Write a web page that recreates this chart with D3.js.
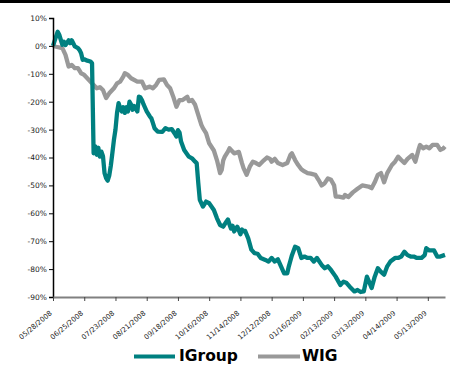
<!DOCTYPE html>
<html>
<head>
<meta charset="utf-8">
<script src="https://cdn.jsdelivr.net/npm/d3@7"></script>
<style>
  html, body { margin: 0; padding: 0; background: #fff; }
  svg { display: block; }
</style>
</head>
<body>
<svg id="chart" width="450" height="365"></svg>
<script>
// ---- data (trading-day index, % change) ----
const xTickLabels = ["05/28/2008","06/25/2008","07/23/2008","08/21/2008","09/18/2008","10/16/2008",
  "11/14/2008","12/12/2008","01/16/2009","02/13/2009","03/13/2009","04/14/2009","05/13/2009"];
const yTicks = [10, 0, -10, -20, -30, -40, -50, -60, -70, -80, -90];
const seriesNames = ["IGroup", "WIG"];

const igroupDays = [0,3,4,6,7,8,10,11,12,14,16,17,18,19,20,22,24,25,26,27,28,29,30,31,32,33,34,35,36,37,38,39,40,41,42,43,44,45,46,47,48,49,50,51,52,54,55,56,57,58,60,62,63,64,65,67,70,72,74,76,78,79,80,81,82,84,87,89,91,92,93,94,96,98,100,103,105,107,109,111,112,113,114,115,116,118,120,121,122,123,125,127,129,131,133,136,138,140,142,144,146,148,150,151,152,153,155,157,159,161,163,165,167,169,172,174,176,178,181,184,186,188,190,193,195,197,199,201,202,204,206,208,210,212,214,216,219,221,223,225,227,229,231,233,236,238,239,241,244,246,248,251];
const igroupValues = [0,5.1,4,0.4,1.5,0.3,2,1,2,-0.2,-0.8,-1.5,-2.6,-5,-4.8,-5.3,-5.6,-6.2,-38.5,-36,-39,-36.5,-39.7,-37.9,-39.5,-45.6,-47.4,-48.3,-46.5,-43,-38.5,-33.7,-30,-24,-20.5,-22.3,-23.5,-22,-24,-22,-23.5,-20,-21,-22.9,-21.5,-23.5,-18.2,-18.5,-19.5,-21,-23.5,-25.3,-26,-27.7,-29.5,-30.7,-30.8,-29.5,-30,-29.8,-31.5,-32.5,-30.2,-31,-34.3,-37.3,-39.7,-40.3,-41.5,-42,-49,-55.2,-57.6,-55.8,-56.4,-58.8,-61.8,-64.2,-64.8,-63,-62.2,-64,-65.5,-64.5,-66.5,-64.8,-67.5,-65.8,-66.5,-66.3,-69,-73,-74.3,-74.5,-76,-76.7,-77.3,-76,-77.3,-76.5,-79,-81.5,-81.5,-79,-77,-75,-72,-72.5,-76,-75.5,-76,-76,-77.3,-76,-78.5,-79.7,-79,-80.3,-82.7,-85.7,-84.5,-85,-86.3,-88,-87.5,-88.2,-88,-82.7,-84,-86.8,-82.7,-79.7,-81,-82,-79,-77.3,-76,-76,-75.5,-73.8,-75,-75.5,-75.5,-76,-76,-75,-72.5,-73.3,-73.3,-75.5,-75.5,-74.9];

const wigDays = [0,2,6,8,10,12,14,16,18,20,23,26,28,30,32,34,36,39,41,43,45,46,48,50,54,57,59,62,64,66,68,71,73,75,77,79,81,83,86,87,89,91,93,95,96,98,100,103,105,107,108,109,110,112,113,114,116,119,121,122,124,126,128,130,132,135,137,139,140,142,144,147,150,152,153,155,157,159,161,163,165,168,170,172,174,176,178,180,181,183,186,187,189,192,195,198,202,204,206,208,210,212,214,217,219,221,223,225,227,230,232,234,235,237,239,241,243,246,248,250,251];
const wigValues = [0,-0.3,-0.8,-3.2,-7.4,-6.8,-8,-8,-9.8,-10.4,-12.2,-14,-15.2,-14.8,-15.8,-18.7,-17,-15.2,-13.4,-12.8,-11,-9.8,-10.4,-11.6,-12.8,-12.8,-15.2,-14.6,-15.2,-14,-12.2,-12,-14,-15.2,-18.2,-21.8,-19.4,-19.4,-18.2,-19.8,-19.4,-21.1,-24.7,-28.3,-29.5,-31.3,-34.9,-37.5,-41,-45.6,-44.5,-41,-39.7,-37.9,-36.7,-37.3,-38.5,-38,-42,-43.8,-46.2,-43.3,-41.5,-42,-42.7,-41,-40,-40.5,-41.5,-40.5,-42,-42.7,-42,-39.1,-38.5,-40.9,-42.7,-44.2,-45,-45.6,-45.8,-46.2,-48,-50,-49.2,-47.5,-48,-50,-54,-54,-54.4,-53.4,-54.2,-52.5,-51.2,-50,-50.4,-51,-48.9,-46.2,-45.6,-48.9,-45.6,-42.7,-41.5,-39.7,-40.9,-42,-40.5,-39.1,-41.5,-37.3,-35.5,-36.7,-36.1,-36.7,-35.5,-35.5,-37.3,-36.7,-36.1];

const colors = ["#008080", "#999999"];

// ---- layout ----
const svg = d3.select("#chart");
const plotLeft = 53, plotRight = 445, plotTop = 18, plotBottom = 297;
const ticksEvery = 20;

const x = d3.scaleLinear().domain([0, 251]).range([plotLeft, plotRight]);
const y = d3.scaleLinear().domain([-90, 10]).range([plotBottom, plotTop]);

// top border
svg.append("line").attr("x1", 0).attr("x2", 450).attr("y1", 1.5).attr("y2", 1.5)
  .attr("stroke", "#000").attr("stroke-width", 3);

// lines
const line = d3.line().x(d => x(d[0])).y(d => y(d[1]));
const wig = wigDays.map((d, i) => [d, wigValues[i]]).filter(d => d[1] !== undefined);
const ig = igroupDays.map((d, i) => [d, igroupValues[i]]).filter(d => d[1] !== undefined);

svg.append("path").datum(wig).attr("d", line).attr("fill", "none")
  .attr("stroke", colors[1]).attr("stroke-width", 4.3).attr("stroke-linejoin", "round");
svg.append("path").datum(ig).attr("d", line).attr("fill", "none")
  .attr("stroke", colors[0]).attr("stroke-width", 4.3).attr("stroke-linejoin", "round");

// y axis
const yAxis = d3.axisLeft(y).tickValues(yTicks).tickSize(4).tickPadding(2)
  .tickFormat(d => d + "%");
const gy = svg.append("g").attr("transform", `translate(${plotLeft},0)`).call(yAxis);
gy.select(".domain").attr("stroke", "#000").attr("stroke-width", 1.5);
gy.selectAll(".tick line").attr("stroke", "#000");
gy.selectAll("text").attr("font-family", "'DejaVu Sans', Verdana, sans-serif")
  .attr("font-size", 7.5).attr("fill", "#222");

// x axis
const xTickVals = xTickLabels.map((_, i) => i * ticksEvery);
const xAxis = d3.axisBottom(x).tickValues(xTickVals).tickSize(4).tickSizeOuter(0)
  .tickFormat((d, i) => xTickLabels[i]);
const gx = svg.append("g").attr("transform", `translate(0,${plotBottom})`).call(xAxis);
gx.select(".domain").attr("stroke", "#808080").attr("stroke-width", 2);
gx.selectAll(".tick line").attr("stroke", "#444");
gx.selectAll("text")
  .attr("font-family", "'DejaVu Sans', Verdana, sans-serif")
  .attr("font-size", 7).attr("fill", "#222")
  .attr("text-anchor", "end")
  .attr("dy", 0).attr("y", 0)
  .attr("transform", "translate(-1,17) rotate(-40)");

// legend
const legend = svg.append("g");
const legItems = [
  { name: seriesNames[0], color: colors[0], x1: 134, x2: 175, tx: 179 },
  { name: seriesNames[1], color: colors[1], x1: 258, x2: 300, tx: 302 }
];
legItems.forEach(it => {
  legend.append("line").attr("x1", it.x1).attr("x2", it.x2).attr("y1", 356.5).attr("y2", 356.5)
    .attr("stroke", it.color).attr("stroke-width", 4);
  legend.append("text").attr("x", it.tx).attr("y", 361)
    .attr("font-family", "'DejaVu Sans', Verdana, sans-serif")
    .attr("font-weight", "bold").attr("font-size", 15.5).attr("fill", "#000")
    .text(it.name);
});
</script>
</body>
</html>
